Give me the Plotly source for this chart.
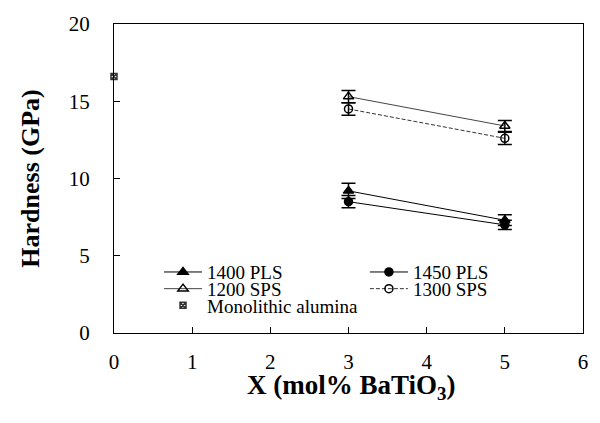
import plotly.graph_objects as go

x_vals = [3, 5]
pls1400 = [9.2, 7.3]
pls1400_err = [0.5, 0.35]
pls1450 = [8.5, 7.0]
pls1450_err = [0.4, 0.3]
sps1200 = [15.3, 13.4]
sps1200_err = [0.4, 0.35]
sps1300 = [14.5, 12.6]
sps1300_err = [0.4, 0.4]
mono_x = [0]
mono_y = [16.6]

x_ticks = [0, 1, 2, 3, 4, 5, 6]
y_ticks = [0, 5, 10, 15, 20]

FONT = "Liberation Serif, Times New Roman, serif"

def series(name, y, err, symbol, dash, color, legend, size=9):
    return go.Scatter(
        x=x_vals, y=y, name=name, mode="lines+markers",
        line=dict(color=color, width=1, dash=dash),
        marker=dict(symbol=symbol, size=size, color="black",
                    line=dict(color="black", width=1.5)),
        error_y=dict(type="data", array=err, visible=True, color="black",
                     thickness=1.5, width=7),
        legend=legend,
    )

fig = go.Figure()
fig.add_trace(series("1400 PLS", pls1400, pls1400_err, "triangle-up", "solid", "black", "legend"))
fig.add_trace(series("1450 PLS", pls1450, pls1450_err, "circle", "solid", "black", "legend2", size=8))
fig.add_trace(series("1200 SPS", sps1200, sps1200_err, "triangle-up-open", "solid", "#444", "legend3"))
fig.add_trace(series("1300 SPS", sps1300, sps1300_err, "circle-open", "4px,2px", "#333", "legend4", size=8))
fig.add_trace(go.Scatter(
    x=mono_x, y=mono_y, name="Monolithic alumina", mode="markers",
    marker=dict(symbol="square-x-open", size=6, color="#333", line=dict(width=1.5)),
    cliponaxis=False, legend="legend5",
))

axis_common = dict(
    showgrid=False, zeroline=False, showline=True, linecolor="black", linewidth=1.2,
    mirror=True, ticks="inside", ticklen=6, tickcolor="black",
    tickfont=dict(family=FONT, size=21, color="black"),
)

col1_x = 0.096
col2_x = 0.535
row_y = [0.197, 0.143, 0.089]

def leg(x, y):
    return dict(x=x, y=y, xanchor="left", yanchor="middle", bgcolor="rgba(0,0,0,0)",
                font=dict(family=FONT, size=19, color="black"), itemwidth=38,
                borderwidth=0)

fig.update_layout(
    width=600, height=423,
    margin=dict(l=114, r=14, t=19, b=90),
    plot_bgcolor="white", paper_bgcolor="white",
    font=dict(family=FONT, color="black"),
    xaxis=dict(range=[0, 6], tickvals=x_ticks, ticklabelstandoff=10, **axis_common),
    yaxis=dict(range=[0, 20], tickvals=y_ticks, ticklabelstandoff=19,
               title=dict(text="<b>Hardness (GPa)</b>", font=dict(family=FONT, size=26), standoff=21),
               **axis_common),
    legend=leg(col1_x, row_y[0]),
    legend2=leg(col2_x, row_y[0]),
    legend3=leg(col1_x, row_y[1]),
    legend4=leg(col2_x, row_y[1]),
    legend5=leg(col1_x, row_y[2]),
    showlegend=True,
    annotations=[dict(
        text="<b>X (mol% BaTiO<sub>3</sub>)</b>", xref="paper", yref="paper",
        x=0.505, y=-0.176, xanchor="center", yanchor="middle", showarrow=False,
        borderpad=0, font=dict(family=FONT, size=27, color="black"),
    )],
)

fig.write_html("out.html")
